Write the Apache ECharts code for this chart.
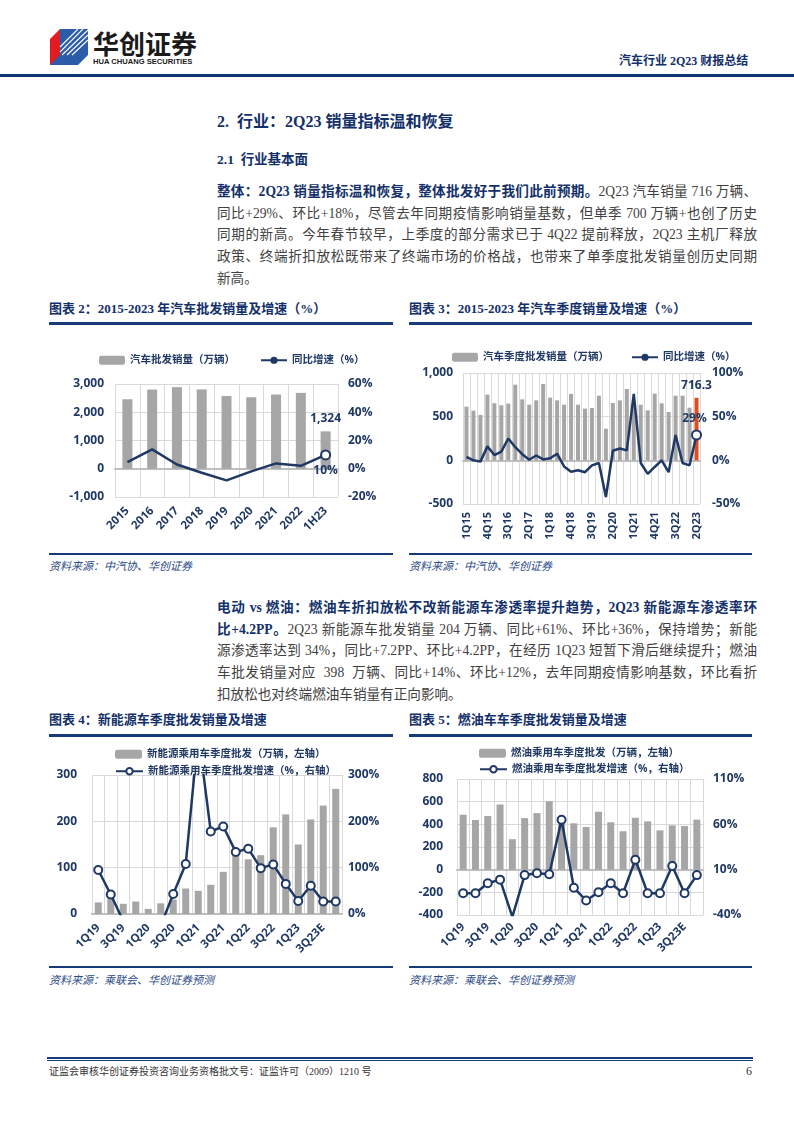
<!DOCTYPE html>
<html><head><meta charset="utf-8">
<script src="https://cdn.jsdelivr.net/npm/echarts/dist/echarts.min.js"></script>
<style>
body{margin:0;width:794px;height:1123px;position:relative;background:#fff;overflow:hidden;}
.a{position:absolute;white-space:nowrap;}
.serif{font-family:"Liberation Serif","Noto Sans CJK SC",serif;}
.navy{color:#13306a;}
.b{font-weight:bold;}
.pl{position:absolute;left:217px;width:540px;height:21.7px;line-height:21.7px;font-size:13.6px;color:#404040;text-align:justify;text-align-last:justify;white-space:nowrap;font-family:"Liberation Serif","Noto Sans CJK SC",serif;}
.pl.last{text-align-last:left;}
.pl .bb{color:#13306a;font-weight:bold;}
.rule{position:absolute;background:#173a78;}
.ttl{position:absolute;font-size:13px;font-weight:bold;color:#13306a;line-height:20px;font-family:"Liberation Serif","Noto Sans CJK SC",serif;white-space:nowrap;}
.src{position:absolute;font-size:11px;font-style:italic;color:#2b4a86;line-height:16px;font-family:"Liberation Serif","Noto Sans CJK SC",serif;white-space:nowrap;}
.chart{position:absolute;}
</style></head>
<body>
<!-- header -->
<svg class="a" style="left:50px;top:29px" width="40" height="36" viewBox="0 0 40 36">
  <polygon points="0,10 10,0 10,36 0,36" fill="#e31b23"/>
  <polygon points="10,0 38,0 38,26 10,26" fill="#2a5caa"/>
  <polygon points="10,26 38,26 28,36 0,36" fill="#2a5caa"/>
  <g stroke="#fff" stroke-width="1.1">
    <line x1="12" y1="26" x2="38" y2="1"/>
    <line x1="17" y1="26" x2="38" y2="6"/>
    <line x1="22" y1="26" x2="38" y2="11"/>
    <line x1="10" y1="23" x2="33" y2="0"/>
    <line x1="10" y1="18" x2="28" y2="0"/>
  </g>
</svg>
<div class="a b" style="left:93px;top:27px;font-size:26px;line-height:32px;color:#1a1a1a;font-family:'Noto Sans CJK SC',sans-serif;">华创证券</div>
<div class="a b" style="left:93px;top:57px;font-size:7.6px;line-height:9px;color:#1a1a1a;font-family:'Liberation Sans',sans-serif;">HUA CHUANG SECURITIES</div>
<div class="a b navy serif" style="left:619px;top:53px;font-size:12px;line-height:16px;">汽车行业 2Q23 财报总结</div>
<div class="rule" style="left:0;top:74px;width:794px;height:3px;background:#0d3570;"></div>

<!-- section headings -->
<div class="a b navy serif" style="left:217px;top:110px;font-size:16px;line-height:24px;">2.&nbsp; 行业：2Q23 销量指标温和恢复</div>
<div class="a b navy serif" style="left:217px;top:150px;font-size:13.5px;line-height:20px;">2.1&nbsp; 行业基本面</div>

<div class="pl" style="top:181px;"><span class="bb">整体：2Q23 销量指标温和恢复，整体批发好于我们此前预期。</span>2Q23 汽车销量 716 万辆、</div>
<div class="pl" style="top:202.7px;">同比+29%、环比+18%，尽管去年同期疫情影响销量基数，但单季 700 万辆+也创了历史</div>
<div class="pl" style="top:224.4px;">同期的新高。今年春节较早，上季度的部分需求已于 4Q22 提前释放，2Q23 主机厂释放</div>
<div class="pl" style="top:246.1px;">政策、终端折扣放松既带来了终端市场的价格战，也带来了单季度批发销量创历史同期</div>
<div class="pl last" style="top:267.8px;">新高。</div>

<!-- chart titles row 1 -->
<div class="ttl" style="left:49px;top:299px;">图表 2：2015-2023 年汽车批发销量及增速（%）</div>
<div class="ttl" style="left:409px;top:299px;">图表 3：2015-2023 年汽车季度销量及增速（%）</div>
<div class="rule" style="left:49px;top:322px;width:344px;height:3px;"></div>
<div class="rule" style="left:409px;top:322px;width:343px;height:3px;"></div>
<div id="c2" class="chart" style="left:47px;top:328px;width:350px;height:222px;"></div>
<div id="c3" class="chart" style="left:405px;top:328px;width:350px;height:222px;"></div>
<div class="rule" style="left:49px;top:553px;width:344px;height:2px;"></div>
<div class="rule" style="left:409px;top:553px;width:343px;height:2px;"></div>
<div class="src" style="left:49px;top:558px;">资料来源：中汽协、华创证券</div>
<div class="src" style="left:409px;top:558px;">资料来源：中汽协、华创证券</div>

<div class="pl" style="top:597px;"><span class="bb">电动 vs 燃油：燃油车折扣放松不改新能源车渗透率提升趋势，2Q23 新能源车渗透率环</span></div>
<div class="pl" style="top:618.7px;"><span class="bb">比+4.2PP。</span>2Q23 新能源车批发销量 204 万辆、同比+61%、环比+36%，保持增势；新能</div>
<div class="pl" style="top:640.4px;">源渗透率达到 34%，同比+7.2PP、环比+4.2PP，在经历 1Q23 短暂下滑后继续提升；燃油</div>
<div class="pl" style="top:662.1px;">车批发销量对应&nbsp; 398&nbsp; 万辆、同比+14%、环比+12%，去年同期疫情影响基数，环比看折</div>
<div class="pl last" style="top:683.8px;">扣放松也对终端燃油车销量有正向影响。</div>

<!-- chart titles row 2 -->
<div class="ttl" style="left:49px;top:710px;">图表 4：新能源车季度批发销量及增速</div>
<div class="ttl" style="left:409px;top:710px;">图表 5：燃油车车季度批发销量及增速</div>
<div class="rule" style="left:49px;top:734px;width:344px;height:3px;"></div>
<div class="rule" style="left:409px;top:734px;width:343px;height:3px;"></div>
<div id="c4" class="chart" style="left:47px;top:738px;width:350px;height:225px;"></div>
<div id="c5" class="chart" style="left:405px;top:738px;width:350px;height:225px;"></div>
<div class="rule" style="left:49px;top:966px;width:344px;height:2px;"></div>
<div class="rule" style="left:409px;top:966px;width:343px;height:2px;"></div>
<div class="src" style="left:49px;top:972px;">资料来源：乘联会、华创证券预测</div>
<div class="src" style="left:409px;top:972px;">资料来源：乘联会、华创证券预测</div>

<!-- footer -->
<div class="rule" style="left:47px;top:1057px;width:706px;height:2px;"></div>
<div class="rule" style="left:47px;top:1060px;width:706px;height:1px;"></div>
<div class="a serif" style="left:49px;top:1065px;font-size:10px;line-height:14px;color:#333;">证监会审核华创证券投资咨询业务资格批文号：证监许可（2009）1210 号</div>
<div class="a serif" style="left:746px;top:1064px;font-size:12px;line-height:14px;color:#333;">6</div>

<script>
// ---------- Data ----------
const years = ['2015','2016','2017','2018','2019','2020','2021','2022','1H23'];
const annualSales = [2460, 2803, 2888, 2808, 2577, 2531, 2628, 2686, 1324];
const annualGrowth = [4.7, 13.7, 3.0, -2.8, -8.2, -1.9, 3.8, 2.1, 9.8];

const quarters = ['1Q15','2Q15','3Q15','4Q15','1Q16','2Q16','3Q16','4Q16','1Q17','2Q17','3Q17','4Q17',
  '1Q18','2Q18','3Q18','4Q18','1Q19','2Q19','3Q19','4Q19','1Q20','2Q20','3Q20','4Q20',
  '1Q21','2Q21','3Q21','4Q21','1Q22','2Q22','3Q22','4Q22','1Q23','2Q23'];
const quarterSales = [614, 569, 519, 752, 653, 630, 649, 866, 698, 637, 687, 874,
  718, 687, 637, 760, 637, 592, 599, 740, 363, 656, 687, 817,
  648, 637, 572, 763, 653, 553, 740, 740, 603, 716.3];
const quarterGrowth = [4, 0, -1.5, 16, 6, 10, 25, 15, 7, 0.6, 5.5, 1,
  2.4, 7.6, -7, -13, -11.4, -13.6, -5.7, -3, -42, 11, 13.6, 11.4,
  76, -3, -15.5, -7.6, 0, -13.6, 29, -3, -5.7, 29];

const seg = ['1Q19','2Q19','3Q19','4Q19','1Q20','2Q20','3Q20','4Q20','1Q21','2Q21','3Q21','4Q21',
  '1Q22','2Q22','3Q22','4Q22','1Q23','2Q23','3Q23E','4Q23E'];
const nevSales = [25, 34, 22, 27, 11, 23, 31, 55, 50, 63, 91, 127, 118, 127, 187, 215, 150, 204, 234, 270];
const nevGrowth = [95, 42, -15, -35, -50, -25, 43, 108, 390, 178, 189, 134, 141, 99, 107, 65, 28, 61, 27, 27];
const iceSales = [485, 438, 473, 575, 269, 455, 499, 604, 455, 409, 377, 511, 418, 339, 458, 426, 347, 391, 385, 441];
const iceGrowth = [-16, -16, -5, -1, -42, 4, 6, 5, 65, -10, -24, -15, -5, -16, 21, -16, -16, 14, -16, 4];

// ---------- Styles ----------
const NAVY = '#1f3864';
const BAR = '#a6a6a6';
const GRIDC = '#d9d9d9';
const ORANGE = '#dc4e1c';
const FONT = '"Open Sans","Noto Sans CJK SC",sans-serif';
const lab = (extra) => Object.assign({color: NAVY, fontWeight: 'bold', fontSize: 12, fontFamily: FONT}, extra || {});
const legText = {color: NAVY, fontWeight: 'bold', fontSize: 10.5, fontFamily: FONT};
const thou = v => v.toLocaleString('en-US');
const pct = v => v + '%';
const split = {show: true, lineStyle: {color: GRIDC, width: 1}};
const xSplit = {show: true, interval: 0, lineStyle: {color: GRIDC, width: 1}};
const G = (o) => Object.assign({containLabel: false, outerBoundsMode: 'none'}, o);

function lastMarked(arr, size) {
  return arr.map((v, i) => i === arr.length - 1 ? {
    value: v, symbol: 'circle', symbolSize: size,
    itemStyle: {color: '#fff', borderColor: NAVY, borderWidth: 2}
  } : v);
}

// ---------- Chart 2 ----------
const c2 = echarts.init(document.getElementById('c2'));
c2.setOption({
  animation: false,
  legend: {left: 47, top: 22, itemWidth: 26, itemHeight: 9, itemGap: 25, textStyle: legText,
    data: ['汽车批发销量（万辆）', '同比增速（%）']},
  grid: G({left: 68, top: 56, width: 223, height: 113}),
  xAxis: {type: 'category', data: years, axisTick: {show: false},
    axisLine: {onZero: true, lineStyle: {color: '#bfbfbf', width: 2}},
    splitLine: xSplit,
    axisLabel: lab({rotate: 45, interval: 0, fontSize: 11.5, margin: 12})},
  yAxis: [
    {type: 'value', min: -1000, max: 3000, interval: 1000, splitLine: split,
      axisLine: {show: false}, axisTick: {show: false}, axisLabel: lab({formatter: thou, margin: 11})},
    {type: 'value', min: -20, max: 60, interval: 20, splitLine: {show: false},
      axisLine: {show: false}, axisTick: {show: false}, axisLabel: lab({formatter: pct, margin: 10})}
  ],
  series: [
    {name: '汽车批发销量（万辆）', type: 'bar', data: annualSales.map((v, i) => i === annualSales.length - 1 ?
        {value: v, label: {show: true, position: 'top', distance: 7, formatter: p => thou(p.value), color: NAVY, fontWeight: 'bold', fontSize: 12, fontFamily: FONT}} : v),
      barWidth: 10, itemStyle: {color: BAR}},
    {name: '同比增速（%）', type: 'line', yAxisIndex: 1, data: lastMarked(annualGrowth, 9).map((d, i, a) => i === a.length - 1 ?
        Object.assign(d, {label: {show: true, position: 'bottom', distance: 4, formatter: p => Math.round(p.value) + '%', color: NAVY, fontWeight: 'bold', fontSize: 12, fontFamily: FONT}}) : d),
      symbol: 'none', lineStyle: {color: NAVY, width: 2.5}, itemStyle: {color: NAVY}, z: 5}
  ]
});

// ---------- Chart 3 ----------
const c3 = echarts.init(document.getElementById('c3'));
c3.setOption({
  animation: false,
  legend: {left: 42, top: 19, itemWidth: 26, itemHeight: 9, itemGap: 22, textStyle: legText,
    data: ['汽车季度批发销量（万辆）', '同比增速（%）']},
  grid: G({left: 58, top: 45, width: 237, height: 131}),
  xAxis: {type: 'category', data: quarters, axisTick: {show: false},
    axisLine: {onZero: true, lineStyle: {color: '#bfbfbf', width: 2}},
    splitLine: xSplit,
    axisLabel: lab({rotate: 90, interval: 2, fontSize: 11, margin: 8})},
  yAxis: [
    {type: 'value', min: -500, max: 1000, interval: 500, splitLine: split,
      axisLine: {show: false}, axisTick: {show: false}, axisLabel: lab({formatter: thou, margin: 10})},
    {type: 'value', min: -50, max: 100, interval: 50, splitLine: {show: false},
      axisLine: {show: false}, axisTick: {show: false}, axisLabel: lab({formatter: pct, margin: 12})}
  ],
  series: [
    {name: '汽车季度批发销量（万辆）', type: 'bar', barWidth: 4, itemStyle: {color: BAR},
      data: quarterSales.map((v, i) => i === quarterSales.length - 1 ?
        {value: v, itemStyle: {color: ORANGE}, label: {show: true, position: 'top', distance: 6, formatter: p => p.value.toFixed(1), color: NAVY, fontWeight: 'bold', fontSize: 12, fontFamily: FONT}} : v)},
    {name: '同比增速（%）', type: 'line', yAxisIndex: 1, symbol: 'none',
      lineStyle: {color: NAVY, width: 2.5}, itemStyle: {color: NAVY}, z: 5,
      data: lastMarked(quarterGrowth, 9).map((d, i, a) => i === a.length - 1 ?
        Object.assign(d, {label: {show: true, position: 'top', distance: 5, offset: [-2, 0], formatter: p => Math.round(p.value) + '%', color: NAVY, fontWeight: 'bold', fontSize: 12, fontFamily: FONT}}) : d)}
  ]
});

// ---------- Charts 4 & 5 ----------
function dualChart(el, cfg) {
  const ch = echarts.init(document.getElementById(el));
  ch.setOption({
    animation: false,
    legend: [
      {left: cfg.legLeft, top: cfg.legTop1, itemWidth: 27, itemHeight: 9, textStyle: legText, data: [cfg.barName]},
      {left: cfg.legLeft, top: cfg.legTop2, itemWidth: 27, itemHeight: 8, textStyle: legText, data: [cfg.lineName]}
    ],
    grid: G(cfg.grid),
    xAxis: {type: 'category', data: seg, axisTick: {show: false},
      axisLine: {onZero: true, lineStyle: {color: '#bfbfbf', width: 2}},
      splitLine: xSplit,
      axisLabel: lab({rotate: 45, interval: 1, fontSize: 11.5, margin: cfg.xMargin})},
    yAxis: [
      {type: 'value', min: cfg.lMin, max: cfg.lMax, interval: cfg.lInt, splitLine: split,
        axisLine: {show: false}, axisTick: {show: false}, axisLabel: lab({margin: cfg.lMargin})},
      {type: 'value', min: cfg.rMin, max: cfg.rMax, interval: cfg.rInt, splitLine: {show: false},
        axisLine: {show: false}, axisTick: {show: false}, axisLabel: lab({formatter: pct, margin: cfg.rMargin})}
    ],
    series: [
      {name: cfg.barName, type: 'bar', data: cfg.bars, barWidth: 7, itemStyle: {color: BAR}},
      {name: cfg.lineName, type: 'line', yAxisIndex: 1, data: cfg.line, clip: true,
        symbol: 'circle', symbolSize: 8, showSymbol: true,
        lineStyle: {color: NAVY, width: 2.5},
        itemStyle: {color: '#fff', borderColor: NAVY, borderWidth: 2}, z: 5}
    ]
  });
}
dualChart('c4', {
  barName: '新能源乘用车季度批发（万辆，左轴）', lineName: '新能源乘用车季度批发增速（%，右轴）',
  legLeft: 63, legTop1: 6, legTop2: 23,
  grid: {left: 45, top: 37, width: 250, height: 139},
  xMargin: 12, lMin: 0, lMax: 300, lInt: 100, lMargin: 15, rMin: 0, rMax: 300, rInt: 100, rMargin: 6,
  bars: nevSales, line: nevGrowth
});
dualChart('c5', {
  barName: '燃油乘用车季度批发（万辆，左轴）', lineName: '燃油乘用车季度批发增速（%，右轴）',
  legLeft: 69, legTop1: 5, legTop2: 21,
  grid: {left: 52, top: 41, width: 246, height: 136},
  xMargin: 10, lMin: -400, lMax: 800, lInt: 200, lMargin: 14, rMin: -40, rMax: 110, rInt: 50, rMargin: 10,
  bars: iceSales, line: iceGrowth
});
</script>
</body></html>
